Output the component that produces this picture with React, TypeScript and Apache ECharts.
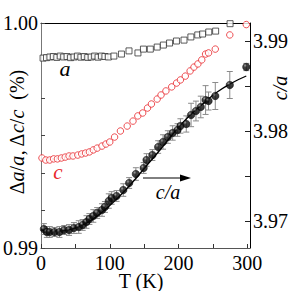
import React, { useEffect, useRef } from "react";
import * as echarts from "echarts";

// a (squares), left axis
const T_A = [3, 8, 13, 18, 23, 28, 33, 38, 43, 48, 53, 58, 63, 68, 73, 78, 83, 88, 93, 98, 106, 117, 128, 141, 149, 159, 169, 178, 187, 197, 208, 218, 228, 235, 244, 254, 275];
const A_VAL = [0.99844, 0.99846, 0.99849, 0.99851, 0.99847, 0.99853, 0.99849, 0.99851, 0.99846, 0.99849, 0.99853, 0.99848, 0.99851, 0.99847, 0.99849, 0.99853, 0.99848, 0.99853, 0.99851, 0.99849, 0.99853, 0.99862, 0.99876, 0.99867, 0.99884, 0.99884, 0.99893, 0.99902, 0.99911, 0.9992, 0.99924, 0.99938, 0.99947, 0.99951, 0.9996, 0.99964, 0.99997];

// c (red circles), left axis
const T_C = [1.4, 7.0, 12.7, 18.3, 23.9, 29.6, 35.2, 40.8, 46.5, 53.5, 59.2, 64.8, 70.4, 76.1, 81.7, 88.7, 94.4, 100, 107, 115.5, 125.4, 133.8, 140.8, 147.9, 154.9, 160.6, 169, 174.6, 181.7, 190.1, 197.2, 202.8, 209.9, 216.9, 222.5, 228.2, 233.8, 239.4, 243.7, 253.5, 274.6, 298.6];
const C_VAL = [0.994, 0.99391, 0.99391, 0.99396, 0.99396, 0.994, 0.99404, 0.99409, 0.99409, 0.99413, 0.99418, 0.99422, 0.99427, 0.99436, 0.99444, 0.99453, 0.99462, 0.99471, 0.99493, 0.9952, 0.99542, 0.99564, 0.99587, 0.996, 0.99622, 0.9964, 0.99662, 0.9968, 0.99698, 0.99716, 0.99733, 0.99747, 0.99764, 0.99787, 0.99804, 0.99818, 0.99836, 0.99862, 0.99867, 0.99884, 0.99947, 0.99993];

// c/a (filled circles with error bars), right axis
const T_CA = [4.2, 8.5, 12.7, 19.7, 26.8, 33.8, 40.8, 47.9, 54.9, 60.6, 66.2, 70.4, 76.1, 81.7, 88.7, 93, 98.6, 102.8, 109.9, 119.7, 128.2, 138, 149.3, 153.5, 162, 170.4, 177.5, 184.5, 191.5, 198.6, 202.8, 211.3, 218.3, 225.4, 232.4, 239.4, 243.7, 253.5, 274.6, 298.6];
const CA_VAL = [3.96911, 3.96878, 3.96878, 3.96878, 3.96878, 3.969, 3.969, 3.96922, 3.96933, 3.96956, 3.96989, 3.97022, 3.97056, 3.97089, 3.97122, 3.97156, 3.97222, 3.97256, 3.97278, 3.97344, 3.97422, 3.97522, 3.97589, 3.97678, 3.97733, 3.97822, 3.97878, 3.97933, 3.97978, 3.98011, 3.98056, 3.98078, 3.98178, 3.98222, 3.98267, 3.98344, 3.98333, 3.98389, 3.98511, 3.98711];
const CA_ERR = [0.0006, 0.0006, 0.0006, 0.0005, 0.0006, 0.0005, 0.0006, 0.0006, 0.0007, 0.0006, 0.0007, 0.0006, 0.0007, 0.0006, 0.0007, 0.0006, 0.0008, 0.0007, 0.0006, 0.0007, 0.0006, 0.0007, 0.0006, 0.0007, 0.0006, 0.0007, 0.0008, 0.0007, 0.0008, 0.0007, 0.0008, 0.0009, 0.0013, 0.0011, 0.0012, 0.0016, 0.001, 0.0015, 0.0015, 0.0004];

// fit curve for c/a
const T_FIT = [0, 23.9, 45.1, 66.2, 87.3, 108.5, 129.6, 150.7, 171.8, 193, 214.1, 235.2, 256.3, 277.5, 298.6];
const FIT_VAL = [3.969, 3.96889, 3.96911, 3.96978, 3.97089, 3.97233, 3.974, 3.97589, 3.97778, 3.97978, 3.98156, 3.983, 3.98433, 3.98533, 3.98611];

const X_TICKS = [0, 50, 100, 150, 200, 250, 300];
const X_LABELS = [0, 100, 200, 300];
const L_TICKS = [0.99, 0.991667, 0.993333, 0.995, 0.996667, 1.0];
const L_LABELS = [0.99, 1.0];
const R_TICKS = [3.97, 3.975, 3.98, 3.985, 3.99];
const R_LABELS = [3.97, 3.98, 3.99];

const FONT = "'Liberation Serif', 'Times New Roman', serif";
const RED = "#e8262a";

export default function App() {
  const ref = useRef<HTMLDivElement>(null);
  useEffect(() => {
    if (!ref.current) return;
    const chart = echarts.init(ref.current, null, { renderer: "svg" });
    const errData = T_CA.map((t, i) => [t, CA_VAL[i] - CA_ERR[i], CA_VAL[i] + CA_ERR[i]]);
    chart.setOption({
      animation: false,
      backgroundColor: "#fff",
      grid: { left: 38, right: 37, top: 23, bottom: 43, containLabel: false },
      xAxis: [
        {
          type: "value",
          min: 0,
          max: 304,
          position: "bottom",
          axisLine: { show: true, lineStyle: { color: "#555", width: 1 } },
          axisTick: { show: true, inside: true, length: 4, customValues: X_TICKS, lineStyle: { color: "#333" } },
          axisLabel: { customValues: X_LABELS, fontFamily: FONT, fontSize: 20, lineHeight: 14, color: "#000", margin: 8 },
          splitLine: { show: false },
        },
        {
          type: "value",
          min: 0,
          max: 304,
          position: "top",
          axisLine: { show: true, onZero: false, lineStyle: { color: "#000", width: 1 } },
          axisTick: { show: false },
          axisLabel: { show: false },
          splitLine: { show: false },
        },
      ],
      yAxis: [
        {
          type: "value",
          min: 0.99,
          max: 1.0,
          position: "left",
          axisLine: { show: true, onZero: false, lineStyle: { color: "#777", width: 1 } },
          axisTick: { show: true, inside: true, length: 4, customValues: L_TICKS, lineStyle: { color: "#444" } },
          axisLabel: {
            customValues: L_LABELS,
            fontFamily: FONT,
            fontSize: 20,
            lineHeight: 14,
            color: "#000",
            margin: 3,
            formatter: (v: number) => v.toFixed(2),
          },
          splitLine: { show: false },
        },
        {
          type: "value",
          min: 3.967,
          max: 3.992,
          position: "right",
          axisLine: { show: true, onZero: false, lineStyle: { color: "#000", width: 1 } },
          axisTick: { show: true, inside: true, length: 5, customValues: R_TICKS, lineStyle: { color: "#222" } },
          axisLabel: {
            customValues: R_LABELS,
            fontFamily: FONT,
            fontSize: 20,
            lineHeight: 15,
            color: "#000",
            margin: 3,
            formatter: (v: number) => v.toFixed(2),
          },
          splitLine: { show: false },
        },
      ],
      series: [
        {
          type: "scatter",
          xAxisIndex: 0,
          yAxisIndex: 0,
          symbol: "rect",
          symbolSize: 6,
          itemStyle: { color: "#fff", borderColor: "#333", borderWidth: 1 },
          data: T_A.map((t, i) => [t, A_VAL[i]]),
          z: 3,
        },
        {
          type: "scatter",
          xAxisIndex: 0,
          yAxisIndex: 0,
          symbol: "circle",
          symbolSize: 6.5,
          itemStyle: { color: "#fff", borderColor: RED, borderWidth: 1 },
          data: T_C.map((t, i) => [t, C_VAL[i]]),
          z: 3,
        },
        {
          type: "custom",
          xAxisIndex: 0,
          yAxisIndex: 1,
          data: errData,
          z: 2,
          renderItem: (params: any, api: any) => {
            const x = api.value(0);
            const lo = api.coord([x, api.value(1)]);
            const hi = api.coord([x, api.value(2)]);
            const style = { stroke: "#8a8a8a", lineWidth: 1 };
            return {
              type: "group",
              children: [
                { type: "line", shape: { x1: lo[0], y1: lo[1], x2: hi[0], y2: hi[1] }, style },
                { type: "line", shape: { x1: lo[0] - 3, y1: lo[1], x2: lo[0] + 3, y2: lo[1] }, style },
                { type: "line", shape: { x1: hi[0] - 3, y1: hi[1], x2: hi[0] + 3, y2: hi[1] }, style },
              ],
            };
          },
        },
        {
          type: "line",
          xAxisIndex: 0,
          yAxisIndex: 1,
          smooth: true,
          showSymbol: false,
          symbol: "none",
          lineStyle: { color: "#000", width: 1.3 },
          data: T_FIT.map((t, i) => [t, FIT_VAL[i]]),
          z: 3,
        },
        {
          type: "scatter",
          xAxisIndex: 0,
          yAxisIndex: 1,
          symbol: "circle",
          symbolSize: 7.5,
          itemStyle: {
            color: new echarts.graphic.RadialGradient(0.35, 0.3, 0.7, [
              { offset: 0, color: "#8a8a8a" },
              { offset: 0.35, color: "#111" },
              { offset: 1, color: "#000" },
            ]),
            borderColor: "#000",
            borderWidth: 0.5,
          },
          data: T_CA.map((t, i) => [t, CA_VAL[i]]),
          z: 4,
        },
      ],
      graphic: [
        {
          type: "text",
          x: 17,
          y: 132,
          rotation: Math.PI / 2,
          style: {
            text: "Δ{i|a}/{i|a}, Δ{i|c}/{i|c}  (%)",
            fontFamily: FONT,
            fontSize: 20,
            fill: "#000",
            align: "center",
            verticalAlign: "middle",
            rich: { i: { fontStyle: "italic", fontFamily: FONT, fontSize: 20 } },
          },
        },
        {
          type: "text",
          x: 280,
          y: 88,
          rotation: Math.PI / 2,
          style: {
            text: "c/a",
            fontFamily: FONT,
            fontStyle: "italic",
            fontSize: 20,
            fill: "#000",
            align: "center",
            verticalAlign: "middle",
          },
        },
        {
          type: "text",
          x: 141,
          y: 281,
          style: {
            text: "T (K)",
            fontFamily: FONT,
            fontSize: 20,
            fill: "#000",
            align: "center",
            verticalAlign: "middle",
          },
        },
        {
          type: "text",
          x: 65,
          y: 68,
          style: {
            text: "a",
            fontFamily: FONT,
            fontStyle: "italic",
            fontSize: 22,
            fill: "#000",
            align: "center",
            verticalAlign: "middle",
          },
        },
        {
          type: "text",
          x: 58,
          y: 172,
          style: {
            text: "c",
            fontFamily: FONT,
            fontStyle: "italic",
            fontSize: 21,
            fill: RED,
            align: "center",
            verticalAlign: "middle",
          },
        },
        {
          type: "text",
          x: 168,
          y: 192,
          style: {
            text: "c/a",
            fontFamily: FONT,
            fontStyle: "italic",
            fontSize: 20,
            fill: "#000",
            align: "center",
            verticalAlign: "middle",
          },
        },
        {
          type: "line",
          shape: { x1: 143, y1: 178, x2: 181, y2: 178 },
          style: { stroke: "#000", lineWidth: 1 },
        },
        {
          type: "polygon",
          shape: { points: [[180, 174.5], [191, 178], [180, 181.5]] },
          style: { fill: "#000" },
        },
      ],
    });
    return () => chart.dispose();
  }, []);
  return (
    <div
      ref={ref}
      style={{ position: "fixed", left: 0, top: 0, width: 291, height: 291, background: "#fff" }}
    />
  );
}
